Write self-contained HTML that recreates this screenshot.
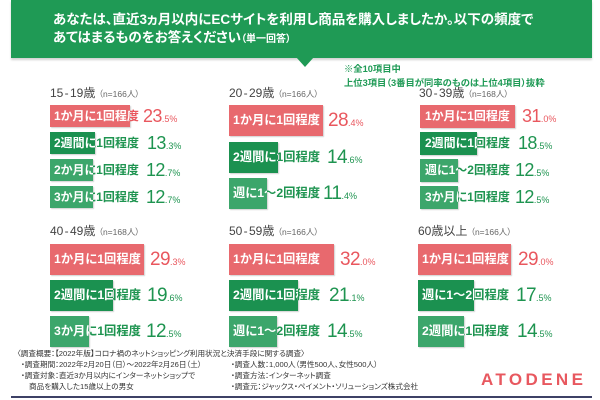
<!DOCTYPE html>
<html lang="ja">
<head>
<meta charset="utf-8">
<style>
*{margin:0;padding:0;box-sizing:border-box;}
html,body{width:600px;height:400px;background:#fff;overflow:hidden;}
body{position:relative;font-family:"Liberation Sans","Noto Sans CJK JP",sans-serif;font-feature-settings:"palt";}
.hdr{position:absolute;left:11px;top:0;width:581px;height:58px;background:#1f9a55;box-shadow:0 2px 2px rgba(0,0,0,.18);}
.tri{position:absolute;left:296px;top:57px;width:0;height:0;border-left:9px solid transparent;border-right:9px solid transparent;border-top:10px solid #1f9a55;}
.ttl{position:absolute;left:53px;top:11px;color:#fff;font-weight:bold;font-size:13.5px;line-height:18px;white-space:nowrap;}
.ttl small{font-size:10px;}
.note{position:absolute;left:344px;top:62px;color:#1e9a55;font-weight:bold;font-size:9.3px;line-height:14px;white-space:nowrap;}
.pt{position:absolute;white-space:nowrap;color:#444;font-size:12px;line-height:14px;}
.pt .a{word-spacing:-2px;}
.pt small{font-size:8.5px;color:#666;}
.r{position:absolute;}
.b{position:absolute;left:0;top:0;bottom:0;box-shadow:1px 1px 1px rgba(0,0,0,.18);}
.red{background:#e8696e;}
.dg{background:#1b9150;}
.lg{background:#3ca66b;}
.l{position:absolute;left:4px;top:0;white-space:nowrap;font-weight:bold;font-size:12px;}
.c{position:absolute;left:0;top:0;bottom:0;overflow:hidden;}
.v{position:absolute;top:0;white-space:nowrap;font-size:18px;letter-spacing:-.6px;}
.v small{font-size:9px;letter-spacing:0;}
.rv{color:#e9575e;}
.gv{color:#1e9450;}
.big .l{font-size:12.3px;}
.big .v{font-size:19px;}
.ft{position:absolute;white-space:nowrap;color:#333;font-size:7.6px;line-height:10px;}
.logo{position:absolute;left:481px;top:371px;color:#e8585f;font-weight:bold;font-size:17px;letter-spacing:3.4px;line-height:18px;}
.bl{position:absolute;left:11px;top:396px;width:581px;height:2px;background:#3d4166;}
</style>
</head>
<body>
<div class="hdr"></div>
<div class="tri"></div>
<div class="ttl">あなたは、直近3ヵ月以内にECサイトを利用し商品を購入しましたか。以下の頻度で<br>あてはまるものをお答えください<small>（単一回答）</small></div>
<div class="note">※全10項目中<br>上位3項目（3番目が同率のものは上位4項目）抜粋</div>

<!-- Panel A -->
<div class="pt" style="left:50px;top:86px;"><span class="a">15 - 19</span>歳 <small>（n=166人）</small></div>
<div class="r" style="left:50px;top:105px;height:22px;line-height:22px;width:140px;">
  <div class="b red" style="width:80px"></div>
  <span class="l rv">1か月に1回程度</span>
  <div class="c" style="width:80px"><span class="l" style="color:#fff">1か月に1回程度</span></div>
  <span class="v rv" style="left:93px">23<small>.5%</small></span>
</div>
<div class="r" style="left:50px;top:132px;height:22px;line-height:22px;width:140px;">
  <div class="b dg" style="width:45px"></div>
  <span class="l gv">2週間に1回程度</span>
  <div class="c" style="width:45px"><span class="l" style="color:#fff">2週間に1回程度</span></div>
  <span class="v gv" style="left:97px">13<small>.3%</small></span>
</div>
<div class="r" style="left:50px;top:159px;height:22px;line-height:22px;width:140px;">
  <div class="b lg" style="width:43px"></div>
  <span class="l gv">2か月に1回程度</span>
  <div class="c" style="width:43px"><span class="l" style="color:#fff">2か月に1回程度</span></div>
  <span class="v gv" style="left:96px">12<small>.7%</small></span>
</div>
<div class="r" style="left:50px;top:186px;height:22px;line-height:22px;width:140px;">
  <div class="b lg" style="width:43px"></div>
  <span class="l gv">3か月に1回程度</span>
  <div class="c" style="width:43px"><span class="l" style="color:#fff">3か月に1回程度</span></div>
  <span class="v gv" style="left:96px">12<small>.7%</small></span>
</div>

<!-- Panel B -->
<div class="pt" style="left:229px;top:86px;"><span class="a">20 - 29</span>歳 <small>（n=166人）</small></div>
<div class="r big" style="left:229px;top:105px;height:31px;line-height:31px;width:150px;">
  <div class="b red" style="width:94px"></div>
  <span class="l rv">1か月に1回程度</span>
  <div class="c" style="width:94px"><span class="l" style="color:#fff">1か月に1回程度</span></div>
  <span class="v rv" style="left:99px">28<small>.4%</small></span>
</div>
<div class="r big" style="left:229px;top:142px;height:31px;line-height:31px;width:150px;">
  <div class="b dg" style="width:49px"></div>
  <span class="l gv">2週間に1回程度</span>
  <div class="c" style="width:49px"><span class="l" style="color:#fff">2週間に1回程度</span></div>
  <span class="v gv" style="left:98px">14<small>.6%</small></span>
</div>
<div class="r big" style="left:229px;top:178px;height:31px;line-height:31px;width:150px;">
  <div class="b lg" style="width:38px"></div>
  <span class="l gv">週に1～2回程度</span>
  <div class="c" style="width:38px"><span class="l" style="color:#fff">週に1～2回程度</span></div>
  <span class="v gv" style="left:94px">11<small>.4%</small></span>
</div>

<!-- Panel C -->
<div class="pt" style="left:419px;top:86px;"><span class="a">30 - 39</span>歳 <small>（n=168人）</small></div>
<div class="r" style="left:420px;top:105px;height:23px;line-height:23px;width:150px;">
  <div class="b red" style="width:95px"></div>
  <span class="l rv" style="left:5px">1か月に1回程度</span>
  <div class="c" style="width:95px"><span class="l" style="color:#fff;left:5px">1か月に1回程度</span></div>
  <span class="v rv" style="left:102px">31<small>.0%</small></span>
</div>
<div class="r" style="left:420px;top:132px;height:23px;line-height:23px;width:150px;">
  <div class="b dg" style="width:57px"></div>
  <span class="l gv" style="left:5px">2週間に1回程度</span>
  <div class="c" style="width:57px"><span class="l" style="color:#fff;left:5px">2週間に1回程度</span></div>
  <span class="v gv" style="left:98px">18<small>.5%</small></span>
</div>
<div class="r" style="left:420px;top:159px;height:23px;line-height:23px;width:150px;">
  <div class="b lg" style="width:38px"></div>
  <span class="l gv" style="left:5px">週に1～2回程度</span>
  <div class="c" style="width:38px"><span class="l" style="color:#fff;left:5px">週に1～2回程度</span></div>
  <span class="v gv" style="left:95px">12<small>.5%</small></span>
</div>
<div class="r" style="left:420px;top:186px;height:23px;line-height:23px;width:150px;">
  <div class="b lg" style="width:38px"></div>
  <span class="l gv" style="left:5px">3か月に1回程度</span>
  <div class="c" style="width:38px"><span class="l" style="color:#fff;left:5px">3か月に1回程度</span></div>
  <span class="v gv" style="left:95px">12<small>.5%</small></span>
</div>

<!-- Panel D -->
<div class="pt" style="left:50px;top:224px;"><span class="a">40 - 49</span>歳 <small>（n=168人）</small></div>
<div class="r big" style="left:50px;top:244px;height:31px;line-height:31px;width:150px;">
  <div class="b red" style="width:94px"></div>
  <span class="l rv">1か月に1回程度</span>
  <div class="c" style="width:94px"><span class="l" style="color:#fff">1か月に1回程度</span></div>
  <span class="v rv" style="left:100px">29<small>.3%</small></span>
</div>
<div class="r big" style="left:50px;top:280px;height:31px;line-height:31px;width:150px;">
  <div class="b dg" style="width:63px"></div>
  <span class="l gv">2週間に1回程度</span>
  <div class="c" style="width:63px"><span class="l" style="color:#fff">2週間に1回程度</span></div>
  <span class="v gv" style="left:97px">19<small>.6%</small></span>
</div>
<div class="r big" style="left:50px;top:316px;height:31px;line-height:31px;width:150px;">
  <div class="b lg" style="width:39px"></div>
  <span class="l gv">3か月に1回程度</span>
  <div class="c" style="width:39px"><span class="l" style="color:#fff">3か月に1回程度</span></div>
  <span class="v gv" style="left:96px">12<small>.5%</small></span>
</div>

<!-- Panel E -->
<div class="pt" style="left:229px;top:224px;"><span class="a">50 - 59</span>歳 <small>（n=166人）</small></div>
<div class="r big" style="left:229px;top:244px;height:31px;line-height:31px;width:150px;">
  <div class="b red" style="width:105px"></div>
  <span class="l rv">1か月に1回程度</span>
  <div class="c" style="width:105px"><span class="l" style="color:#fff">1か月に1回程度</span></div>
  <span class="v rv" style="left:111px">32<small>.0%</small></span>
</div>
<div class="r big" style="left:229px;top:280px;height:31px;line-height:31px;width:150px;">
  <div class="b dg" style="width:69px"></div>
  <span class="l gv">2週間に1回程度</span>
  <div class="c" style="width:69px"><span class="l" style="color:#fff">2週間に1回程度</span></div>
  <span class="v gv" style="left:100px">21<small>.1%</small></span>
</div>
<div class="r big" style="left:229px;top:316px;height:31px;line-height:31px;width:150px;">
  <div class="b lg" style="width:48px"></div>
  <span class="l gv">週に1～2回程度</span>
  <div class="c" style="width:48px"><span class="l" style="color:#fff">週に1～2回程度</span></div>
  <span class="v gv" style="left:98px">14<small>.5%</small></span>
</div>

<!-- Panel F -->
<div class="pt" style="left:418px;top:224px;">60歳以上 <small>（n=166人）</small></div>
<div class="r big" style="left:418px;top:244px;height:31px;line-height:31px;width:150px;">
  <div class="b red" style="width:93px"></div>
  <span class="l rv">1か月に1回程度</span>
  <div class="c" style="width:93px"><span class="l" style="color:#fff">1か月に1回程度</span></div>
  <span class="v rv" style="left:100px">29<small>.0%</small></span>
</div>
<div class="r big" style="left:418px;top:280px;height:31px;line-height:31px;width:150px;">
  <div class="b dg" style="width:56px"></div>
  <span class="l gv">週に1～2回程度</span>
  <div class="c" style="width:56px"><span class="l" style="color:#fff">週に1～2回程度</span></div>
  <span class="v gv" style="left:98px">17<small>.5%</small></span>
</div>
<div class="r big" style="left:418px;top:316px;height:31px;line-height:31px;width:150px;">
  <div class="b lg" style="width:46px"></div>
  <span class="l gv">2週間に1回程度</span>
  <div class="c" style="width:46px"><span class="l" style="color:#fff">2週間に1回程度</span></div>
  <span class="v gv" style="left:99px">14<small>.5%</small></span>
</div>

<!-- Footer -->
<div class="ft" style="left:17px;top:349px;">〈調査概要：【2022年版】コロナ禍のネットショッピング利用状況と決済手段に関する調査〉</div>
<div class="ft" style="left:21px;top:359.5px;">・調査期間：2022年2月20日（日）～2022年2月26日（土）</div>
<div class="ft" style="left:21px;top:370.5px;">・調査対象：直近3か月以内にインターネットショップで</div>
<div class="ft" style="left:29px;top:381.5px;">商品を購入した15歳以上の男女</div>
<div class="ft" style="left:231px;top:359.5px;">・調査人数：1,000人（男性500人、女性500人）</div>
<div class="ft" style="left:231px;top:370.5px;">・調査方法：インターネット調査</div>
<div class="ft" style="left:231px;top:381.5px;">・調査元：ジャックス・ペイメント・ソリューションズ株式会社</div>
<div class="logo">ATODENE</div>
<div class="bl"></div>
</body>
</html>
